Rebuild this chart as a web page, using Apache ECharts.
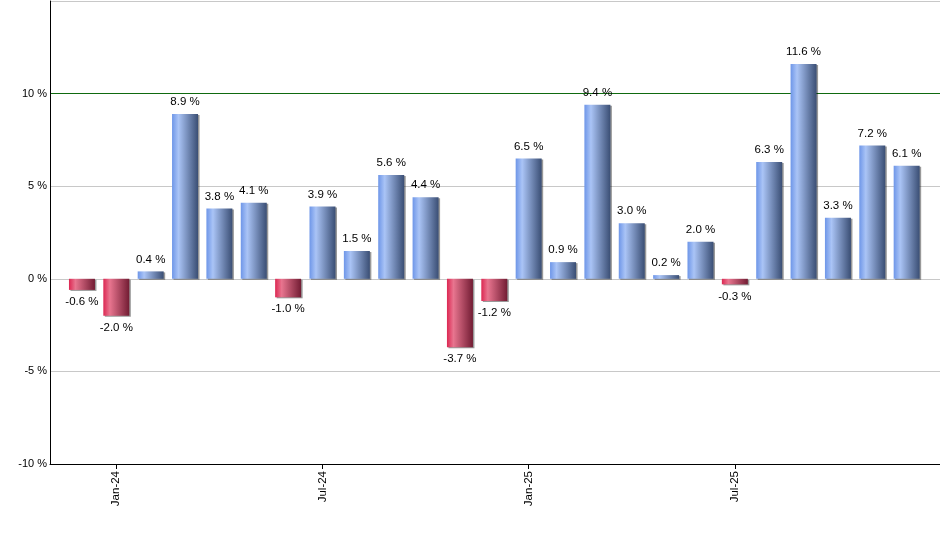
<!DOCTYPE html>
<html>
<head>
<meta charset="utf-8">
<script src="https://cdn.jsdelivr.net/npm/echarts@6/dist/echarts.min.js"></script>
<style>
html,body{margin:0;padding:0;background:#fff;}
#chart{width:940px;height:550px;}
</style>
</head>
<body>
<div id="chart"></div>
<script>
var months = ['Dec-23','Jan-24','Feb-24','Mar-24','Apr-24','May-24','Jun-24','Jul-24','Aug-24','Sep-24','Oct-24','Nov-24','Dec-24',
              'Jan-25','Feb-25','Mar-25','Apr-25','May-25','Jun-25','Jul-25','Aug-25','Sep-25','Oct-25','Nov-25','Dec-25'];
var returns = [-0.6,-2.0,0.4,8.9,3.8,4.1,-1.0,3.9,1.5,5.6,4.4,-3.7,-1.2,6.5,0.9,9.4,3.0,0.2,2.0,-0.3,6.3,11.6,3.3,7.2,6.1];
var tickLabels = ['Jan-24','Jul-24','Jan-25','Jul-25'];
var yTicks = [-10,-5,0,5,10,15];

var tickIdx = tickLabels.map(function(t){ return months.indexOf(t); });

var blueGrad = new echarts.graphic.LinearGradient(0,0,1,0,[
  {offset:0,color:'#6e96e8'},{offset:0.25,color:'#aac4f6'},{offset:1,color:'#3a4e74'}]);
var redGrad = new echarts.graphic.LinearGradient(0,0,1,0,[
  {offset:0,color:'#dc2752'},{offset:0.25,color:'#e8758f'},{offset:1,color:'#721c33'}]);

var data = returns.map(function(v,i){
  return {
    value:[i,v],
    itemStyle:{color: v>=0 ? blueGrad : redGrad},
    label:{position: v>=0 ? 'top' : 'bottom'}
  };
});

var chart = echarts.init(document.getElementById('chart'));
chart.setOption({
  animation:false,
  grid:{left:50,right:0,top:1,bottom:86,containLabel:false},
  xAxis:{
    type:'value',min:-0.93,max:24.97,
    splitLine:{show:false},
    axisLine:{show:true,onZero:false,lineStyle:{color:'#000',width:1}},
    axisTick:{show:true,customValues:tickIdx,length:5,lineStyle:{color:'#000'}},
    axisLabel:{show:true,customValues:tickIdx,rotate:90,margin:7,
      fontFamily:'Liberation Sans, Arial, sans-serif',fontSize:11.5,color:'#000',
      formatter:function(v){ return months[Math.round(v)]; }}
  },
  yAxis:{
    type:'value',min:yTicks[0],max:yTicks[yTicks.length-1],interval:5,
    axisLine:{show:true,onZero:false,lineStyle:{color:'#000',width:1}},
    axisTick:{show:false},
    splitLine:{show:true,lineStyle:{color:['#c8c8c8','#c8c8c8','#c8c8c8','#c8c8c8','#0f6a0f','#c8c8c8'],width:1}},
    axisLabel:{margin:3,fontFamily:'Liberation Sans, Arial, sans-serif',fontSize:11,color:'#000',
      formatter:function(v){ return (v===15)?'':v+' %'; }}
  },
  series:[{
    type:'bar',
    barWidth:26,
    data:data,
    itemStyle:{shadowColor:'rgba(0,0,0,0.4)',shadowOffsetX:1.5,shadowOffsetY:1,shadowBlur:0},
    label:{show:true,distance:6,fontFamily:'Liberation Sans, Arial, sans-serif',fontSize:11.5,color:'#000',
      formatter:function(p){ return p.value[1].toFixed(1)+' %'; }}
  }]
});
</script>
</body>
</html>
